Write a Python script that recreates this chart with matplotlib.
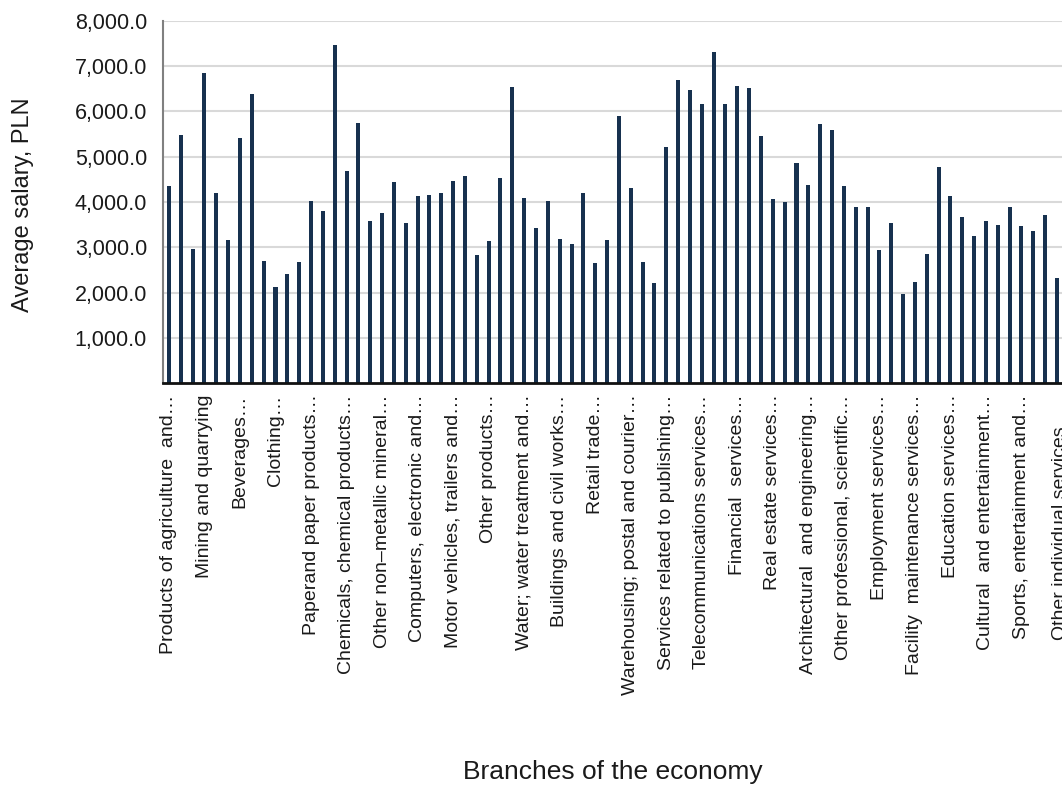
import matplotlib
matplotlib.use("Agg")
import matplotlib.pyplot as plt
from matplotlib.ticker import FuncFormatter
from matplotlib.transforms import ScaledTranslation

plt.rcParams['font.family'] = ['Liberation Sans', 'DejaVu Sans']

# average salary per branch, PLN
salary = [
    4350, 5480, 2960, 6850, 4200, 3160, 5410, 6380, 2700, 2130,
    2410, 2680, 4020, 3800, 7460, 4680, 5740, 3580, 3760, 4440,
    3540, 4130, 4150, 4200, 4460, 4570, 2830, 3140, 4530, 6540,
    4090, 3430, 4020, 3180, 3070, 4200, 2650, 3160, 5900, 4310,
    2680, 2210, 5210, 6690, 6470, 6160, 7310, 6160, 6560, 6510,
    5460, 4070, 4000, 4860, 4370, 5720, 5590, 4350, 3890, 3890,
    2940, 3540, 1970, 2240, 2850, 4770, 4130, 3670, 3250, 3580,
    3490, 3890, 3470, 3360, 3710, 2320,
]

# every third branch gets a label
branch_labels = [
    "Products of agriculture  and…",
    "Mining and quarrying",
    "Beverages…",
    "Clothing…",
    "Paperand paper products…",
    "Chemicals, chemical products…",
    "Other non–metallic mineral…",
    "Computers, electronic and…",
    "Motor vehicles, trailers and…",
    "Other products…",
    "Water; water treatment and…",
    "Buildings and civil works…",
    "Retail trade…",
    "Warehousing; postal and courier…",
    "Services related to publishing…",
    "Telecommunications services…",
    "Financial  services…",
    "Real estate services…",
    "Architectural  and engineering…",
    "Other professional, scientific…",
    "Employment services…",
    "Facility  maintenance services…",
    "Education services…",
    "Cultural  and entertainment…",
    "Sports, entertainment and…",
    "Other individual services",
]

fig = plt.figure(figsize=(10.62, 7.87), dpi=100)
ax = fig.add_axes([0.1535, 0.513, 0.8585, 0.4607])

x = list(range(len(salary)))
ax.bar(x, salary, width=0.34, color='#17314f', zorder=3)

ax.set_xlim(-0.5, 76.5)
ax.set_ylim(0, 8000)
ax.set_yticks(range(1000, 8001, 1000))
ax.yaxis.set_major_formatter(FuncFormatter(lambda v, p: "{:,.1f}".format(v)))
ax.grid(axis='y', color='#d9d9d9', linewidth=1.5, zorder=0)

ax.set_xticks(x[::3])
ax.set_xticklabels(branch_labels, rotation=90, fontsize=14, color='#1a1a1a')
ax.tick_params(axis='x', length=0, pad=8)
ax.tick_params(axis='y', length=0, pad=11.5, labelsize=15.5, labelcolor='#1a1a1a')

# last label sits a bit lower and further right
last = ax.get_xticklabels()[-1]
last.set_transform(last.get_transform() + ScaledTranslation(0.04, -0.32, fig.dpi_scale_trans))

for s in ['top', 'right']:
    ax.spines[s].set_visible(False)
ax.spines['left'].set_color('#808080')
ax.spines['left'].set_linewidth(1.5)
ax.spines['bottom'].set_color('#111111')
ax.spines['bottom'].set_linewidth(2)
ax.spines['bottom'].set_zorder(4)

fig.text(0.0215, 0.74, "Average salary, PLN", rotation=90, fontsize=17,
         ha='center', va='center', color='#1a1a1a')
fig.text(0.577, 0.004, "Branches of the economy", fontsize=19,
         ha='center', va='bottom', color='#1a1a1a')

fig.savefig("out.png", dpi=100)
